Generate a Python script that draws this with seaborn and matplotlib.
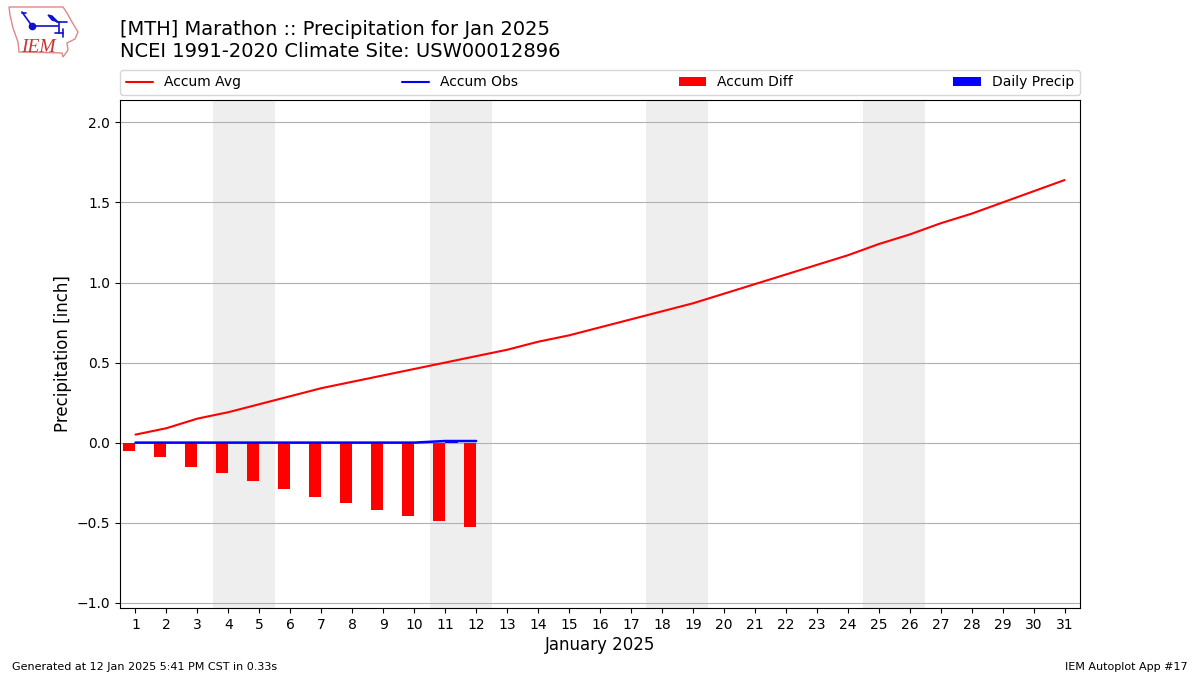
#!/usr/bin/env python3
"""Accumulated precipitation chart for Marathon, January 2025."""

import matplotlib

matplotlib.use("Agg")

import matplotlib.pyplot as plt
import pandas as pd
import seaborn as sns
from matplotlib.lines import Line2D
from matplotlib.patches import Patch, Polygon

DAYS = list(range(1, 32))
ACCUM_AVG = [
    0.05, 0.09, 0.15, 0.19, 0.24, 0.29, 0.34, 0.38, 0.42, 0.46, 0.50,
    0.54, 0.58, 0.63, 0.67, 0.72, 0.77, 0.82, 0.87, 0.93, 0.99, 1.05,
    1.11, 1.17, 1.24, 1.30, 1.37, 1.43, 1.50, 1.57, 1.64,
]
OBS_DAYS = list(range(1, 13))
ACCUM_OBS = [0, 0, 0, 0, 0, 0, 0, 0, 0, 0, 0.01, 0.01]
ACCUM_DIFF = [-0.05, -0.09, -0.15, -0.19, -0.24, -0.29, -0.34, -0.38, -0.42, -0.46, -0.49, -0.53]
DAILY_PRECIP = [0, 0, 0, 0, 0, 0, 0, 0, 0, 0, 0.01, 0]
WEEKENDS = [(3.5, 5.5), (10.5, 12.5), (17.5, 19.5), (24.5, 26.5)]

TITLE = "[MTH] Marathon :: Precipitation for Jan 2025\nNCEI 1991-2020 Climate Site: USW00012896"

# rough outline of the IEM logo (Iowa), in figure pixels from the top left
LOGO_OUTLINE = [
    (9, 7), (63, 7), (67, 13), (72, 22), (78, 32), (75, 39), (67, 43),
    (68, 50), (63, 57), (62, 53), (19, 52), (18, 42), (13, 28), (10, 15),
]
LOGO_STROKES = [
    [(32, 26), (58, 26)], [(32, 26), (22, 12)], [(22, 13), (26, 13)],
    [(57, 22), (67, 22)], [(59, 22), (59, 33)], [(63, 29), (63, 37)],
    [(55, 33), (63, 33)],
]


def px(x, y):
    return x / 1200, 1 - y / 675


def draw_logo(fig):
    fig.add_artist(Polygon([px(x, y) for x, y in LOGO_OUTLINE], closed=True, fill=False,
                           edgecolor="#e08888", linewidth=1, transform=fig.transFigure))
    blue = "#1010d0"
    for pts in LOGO_STROKES:
        xs, ys = zip(*[px(*p) for p in pts])
        fig.add_artist(Line2D(xs, ys, color=blue, linewidth=1.2, transform=fig.transFigure))
    fig.add_artist(Line2D(*zip(px(32, 26)), marker="o", markersize=4.5, color=blue,
                          transform=fig.transFigure))
    fig.add_artist(Polygon([px(48, 15), px(52, 16), px(58, 22), px(52, 20)], closed=True,
                           color=blue, transform=fig.transFigure))
    fig.text(*px(21, 52), "IEM", family="Liberation Serif", style="italic",
             color="#d03030", fontsize=14)


def main():
    sns.set_style("ticks", {"text.color": "black", "axes.labelcolor": "black",
                            "xtick.color": "black", "ytick.color": "black",
                            "patch.edgecolor": "none"})
    plt.rcParams["font.family"] = ["DejaVu Sans"]

    fig = plt.figure(figsize=(12, 6.75), dpi=100)
    ax = fig.add_axes([0.1, 1 - 608 / 675, 0.8, 508 / 675])

    for start, end in WEEKENDS:
        ax.axvspan(start, end, color="#eeeeee", linewidth=0, zorder=0)

    avg_df = pd.DataFrame({"day": DAYS, "value": ACCUM_AVG})
    obs_df = pd.DataFrame({"day": OBS_DAYS, "value": ACCUM_OBS})
    sns.lineplot(data=avg_df, x="day", y="value", color="red", linewidth=1.5, ax=ax, zorder=3)
    sns.lineplot(data=obs_df, x="day", y="value", color="blue", linewidth=1.8, ax=ax, zorder=3)
    ax.bar(OBS_DAYS, ACCUM_DIFF, width=-0.4, align="edge", color="red", linewidth=0, zorder=2)
    ax.bar(OBS_DAYS, DAILY_PRECIP, width=0.4, align="edge", color="blue", linewidth=0, zorder=2)

    ax.set_xlim(0.5, 31.5)
    ax.set_ylim(-1.033, 2.14)
    ax.set_xticks(DAYS)
    ax.set_yticks([-1.0, -0.5, 0.0, 0.5, 1.0, 1.5, 2.0])
    ax.tick_params(axis="both", labelsize=10, length=3.5, width=0.8, color="black")
    ax.grid(axis="y", color="#b0b0b0", linewidth=0.8)
    ax.set_axisbelow(True)
    ax.set_xlabel("January 2025", fontsize=12, labelpad=3)
    ax.set_ylabel("Precipitation [inch]", fontsize=12, labelpad=3)
    for spine in ax.spines.values():
        spine.set_visible(True)
        spine.set_color("black")
        spine.set_linewidth(0.8)

    handles = [
        Line2D([], [], color="red", linewidth=1.5),
        Line2D([], [], color="blue", linewidth=1.5),
        Patch(color="red", linewidth=0),
        Patch(color="blue", linewidth=0),
    ]
    ax.legend(handles, ["Accum Avg", "Accum Obs", "Accum Diff", "Daily Precip"], ncol=4,
              mode="expand", loc="lower left", bbox_to_anchor=(0, 1.01, 1, 0.05),
              borderaxespad=0, fontsize=10, frameon=True)

    fig.text(0.1, 1 - 61 / 675, TITLE, fontsize=14, ha="left", va="bottom", linespacing=1.2)
    fig.text(0.01, 1 - 670 / 675, "Generated at 12 Jan 2025 5:41 PM CST in 0.33s", fontsize=8)
    fig.text(0.99, 1 - 670 / 675, "IEM Autoplot App #17", fontsize=8, ha="right")
    draw_logo(fig)

    fig.savefig("out.png", dpi=100)


if __name__ == "__main__":
    main()
